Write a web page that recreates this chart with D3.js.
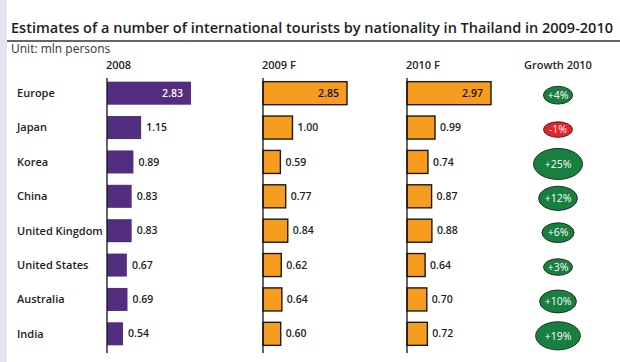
<!DOCTYPE html>
<html>
<head>
<meta charset="utf-8">
<script src="https://cdn.jsdelivr.net/npm/d3@7"></script>
<style>
  html, body { margin: 0; padding: 0; background: #fff; }
  svg { display: block; }
  text { font-family: "Open Sans", "DejaVu Sans", sans-serif; }
</style>
</head>
<body>
<svg id="chart" width="620" height="362"></svg>
<script>
// Tourists by nationality, mln persons
const categories = ["Europe", "Japan", "Korea", "China", "United Kingdom", "United States", "Australia", "India"];
const values2008 = [2.83, 1.15, 0.89, 0.83, 0.83, 0.67, 0.69, 0.54];
const values2009 = [2.85, 1.00, 0.59, 0.77, 0.84, 0.62, 0.64, 0.60];
const values2010 = [2.97, 0.99, 0.74, 0.87, 0.88, 0.64, 0.70, 0.72];
const growth2010 = [4, -1, 25, 12, 6, 3, 10, 19];
const columnHeaders = ["2008", "2009 F", "2010 F"];
const growthHeader = "Growth 2010";
const titleText = "Estimates of a number of international tourists by nationality in Thailand in 2009-2010";
const unitText = "Unit: mln persons";

const svg = d3.select("#chart");

// lavender side strip
svg.append("rect").attr("x", 0).attr("y", 0).attr("width", 7).attr("height", 362).attr("fill", "#e6e3f0");

// title and rule
svg.append("text").attr("x", 11).attr("y", 33)
  .attr("font-size", 14.5).attr("font-weight", 600).attr("fill", "#1e1e1e")
  .attr("textLength", 602).attr("lengthAdjust", "spacingAndGlyphs")
  .text(titleText);
svg.append("line").attr("x1", 7).attr("x2", 620).attr("y1", 41).attr("y2", 41)
  .attr("stroke", "#333").attr("stroke-width", 1.6);
svg.append("text").attr("x", 11).attr("y", 53)
  .attr("font-size", 12).attr("fill", "#333").text(unitText);

// rows
const y = d3.scaleBand().domain(categories).range([76, 351])
  .paddingInner(0.33).paddingOuter(0.165);

svg.append("g").selectAll("text").data(categories).join("text")
  .attr("x", 17).attr("y", d => y(d) + y.bandwidth() / 2)
  .attr("dy", "0.35em").attr("font-size", 11).attr("font-weight", 600).attr("fill", "#222")
  .text(d => d);

const panels = [
  { x0: 107, values: values2008, fill: "#522d80", stroke: "none", inside: "#fff" },
  { x0: 263, values: values2009, fill: "#f79c1f", stroke: "#1a1a1a", inside: "#111" },
  { x0: 407, values: values2010, fill: "#f79c1f", stroke: "#1a1a1a", inside: "#111" }
];

panels.forEach((p, i) => {
  const x = d3.scaleLinear().domain([0, d3.max(p.values)]).range([0, 84]);
  const g = svg.append("g").attr("transform", `translate(${p.x0},0)`);
  const rows = categories.map((c, j) => ({ c, v: p.values[j] }));
  const maxV = d3.max(p.values);

  g.append("text").attr("x", -1).attr("y", 69)
    .attr("font-size", 11).attr("font-weight", 600).attr("fill", "#1e1e1e")
    .text(columnHeaders[i]);

  g.selectAll("rect").data(rows).join("rect")
    .attr("x", 0).attr("y", d => y(d.c)).attr("width", d => x(d.v)).attr("height", y.bandwidth())
    .attr("fill", p.fill).attr("stroke", p.stroke).attr("stroke-width", 1.4);

  g.append("line").attr("x1", 0).attr("x2", 0).attr("y1", 78).attr("y2", 353)
    .attr("stroke", "#111").attr("stroke-width", 1.3);

  g.selectAll("text.val").data(rows).join("text").attr("class", "val")
    .attr("x", d => d.v === maxV ? x(d.v) - 8 : x(d.v) + 5)
    .attr("y", d => y(d.c) + y.bandwidth() / 2)
    .attr("dy", "0.35em")
    .attr("text-anchor", d => d.v === maxV ? "end" : "start")
    .attr("font-size", 10.5).attr("font-weight", 600)
    .attr("fill", d => d.v === maxV ? p.inside : "#1e1e1e")
    .text(d => d.v.toFixed(2));
});

// growth bubbles
const gx = 558;
svg.append("text").attr("x", gx).attr("y", 69).attr("text-anchor", "middle")
  .attr("font-size", 11).attr("font-weight", 600).attr("fill", "#1e1e1e").text(growthHeader);

const w = d3.scaleSqrt().domain([0, 25]).range([16, 49]);
const h = d3.scaleSqrt().domain([0, 25]).range([9, 31]);
const gRows = categories.map((c, j) => ({ c, v: growth2010[j] }));
const gg = svg.append("g").selectAll("g").data(gRows).join("g")
  .attr("transform", d => `translate(${gx},${y(d.c) + y.bandwidth() / 2 + 2})`);
gg.append("ellipse")
  .attr("rx", d => Math.max(w(Math.abs(d.v)), 29) / 2)
  .attr("ry", d => Math.max(h(Math.abs(d.v)), 15.5) / 2)
  .attr("fill", d => d.v < 0 ? "#e8232b" : "#17803f")
  .attr("stroke", "#222").attr("stroke-width", 0.9);
gg.append("text").attr("text-anchor", "middle").attr("dy", "0.35em")
  .attr("font-size", 10.5).attr("font-weight", 500).attr("fill", "#fff")
  .text(d => (d.v > 0 ? "+" : "") + d.v + "%");
</script>
</body>
</html>
